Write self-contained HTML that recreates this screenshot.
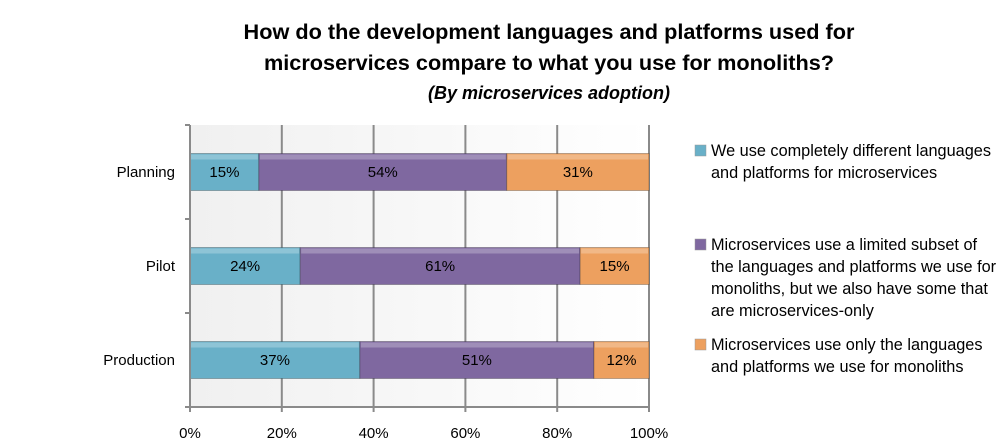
<!DOCTYPE html>
<html><head><meta charset="utf-8"><style>
html,body{margin:0;padding:0;background:#fff;}
svg{display:block;font-family:"Liberation Sans",sans-serif;}
</style></head><body>
<svg id="chart" width="1006" height="446" viewBox="0 0 1006 446">
<defs>
<linearGradient id="bg" x1="0" x2="1" y1="0" y2="0"><stop offset="0" stop-color="#f0f0f0"/><stop offset="1" stop-color="#ffffff"/></linearGradient>
</defs>
<text x="549" y="39" text-anchor="middle" font-size="21.7" font-weight="bold" fill="#000">How do the development languages and platforms used for</text>
<text x="549" y="70" text-anchor="middle" font-size="21.7" font-weight="bold" fill="#000">microservices compare to what you use for monoliths?</text>
<text x="549" y="99" text-anchor="middle" font-size="18" font-weight="bold" font-style="italic" fill="#000">(By microservices adoption)</text>
<rect x="190" y="125" width="459" height="282" fill="url(#bg)"/>
<g id="grid"></g>
<g id="bars"></g>
<g id="axes"></g>
<g id="legend"></g>
</svg>
<script>
const categories = ["Planning", "Pilot", "Production"];
const seriesNames = ["We use completely different languages and platforms for microservices", "Microservices use a limited subset of the languages and platforms we use for monoliths, but we also have some that are microservices-only", "Microservices use only the languages and platforms we use for monoliths"];
const different = [15, 24, 37];
const subset = [54, 61, 51];
const same = [31, 15, 12];
const xTicks = [0, 20, 40, 60, 80, 100];

const NS = "http://www.w3.org/2000/svg";
const X0 = 190, X1 = 649, Y0 = 125, Y1 = 407;
const x = v => X0 + (X1 - X0) * v / 100;
const band = (Y1 - Y0) / categories.length;
const yc = i => Y0 + band * (i + 0.5);
const BH = 37;
function mk(tag, attrs, parent) { const e = document.createElementNS(NS, tag); for (const k in attrs) e.setAttribute(k, attrs[k]); parent.appendChild(e); return e; }
const grid = document.getElementById('grid'), bars = document.getElementById('bars'), axes = document.getElementById('axes'), legend = document.getElementById('legend');
const colors = ["#69b0c8", "#7f68a0", "#eda05f"];
const series = [different, subset, same];

xTicks.forEach(t => {
  const l = mk('line', {x1: x(t), x2: x(t), y1: Y0, y2: Y1 + 5, stroke: '#8a8a8a', 'stroke-width': 2}, grid);
  
  
  const tx = mk('text', {x: x(t), y: 438, 'text-anchor': 'middle', 'font-size': 15, fill: '#000'}, axes);
  tx.textContent = t + '%';
  
  
});
const ya = mk('line', {x1: X0, x2: X0, y1: Y0, y2: Y1, stroke: '#8a8a8a', 'stroke-width': 2}, axes);


const xa = mk('line', {x1: X0 - 5, x2: X1, y1: Y1, y2: Y1, stroke: '#8a8a8a', 'stroke-width': 2}, axes);


for (let i = 0; i <= categories.length; i++) {
  const tk = mk('line', {x1: X0 - 5, x2: X0, y1: Y0 + band * i, y2: Y0 + band * i, stroke: '#8a8a8a', 'stroke-width': 2}, axes);
  
  
}
categories.forEach((c, i) => {
  const t = mk('text', {x: 175, y: yc(i) + 5, 'text-anchor': 'end', 'font-size': 15, fill: '#000'}, axes);
  t.textContent = c;
  
  
  let acc = 0;
  series.forEach((s, j) => {
    const v = s[i];
    const r = mk('rect', {x: x(acc), y: yc(i) - BH / 2, width: x(acc + v) - x(acc), height: BH, fill: colors[j], stroke: 'rgba(0,0,0,0.25)', 'stroke-width': 1}, bars);
    
    
    const hl = mk('rect', {x: x(acc) + 1, y: yc(i) - BH / 2 + 1, width: Math.max(0, x(acc + v) - x(acc) - 2), height: 5, fill: 'rgba(255,255,255,0.25)'}, bars);
    
    
    const lb = mk('text', {x: (x(acc) + x(acc + v)) / 2, y: yc(i) + 5, 'text-anchor': 'middle', 'font-size': 15, fill: '#000'}, bars);
    lb.textContent = v + '%';
    
    
    acc += v;
  });
});
const legendLines = [
  ["We use completely different languages", "and platforms for microservices"],
  ["Microservices use a limited subset of", "the languages and platforms we use for", "monoliths, but we also have some that", "are microservices-only"],
  ["Microservices use only the languages", "and platforms we use for monoliths"]
];
const legendTop = [156, 250, 350];
legendLines.forEach((lines, j) => {
  const sw = mk('rect', {x: 695, y: legendTop[j] - 11, width: 11, height: 11, fill: colors[j], stroke: '#999', 'stroke-width': 0.5}, legend);
  
  
  lines.forEach((ln, k) => {
    const t = mk('text', {x: 711, y: legendTop[j] + k * 22, 'font-size': 16.3, fill: '#000'}, legend);
    t.textContent = ln;
    
    
  });
});
</script>
</body></html>
